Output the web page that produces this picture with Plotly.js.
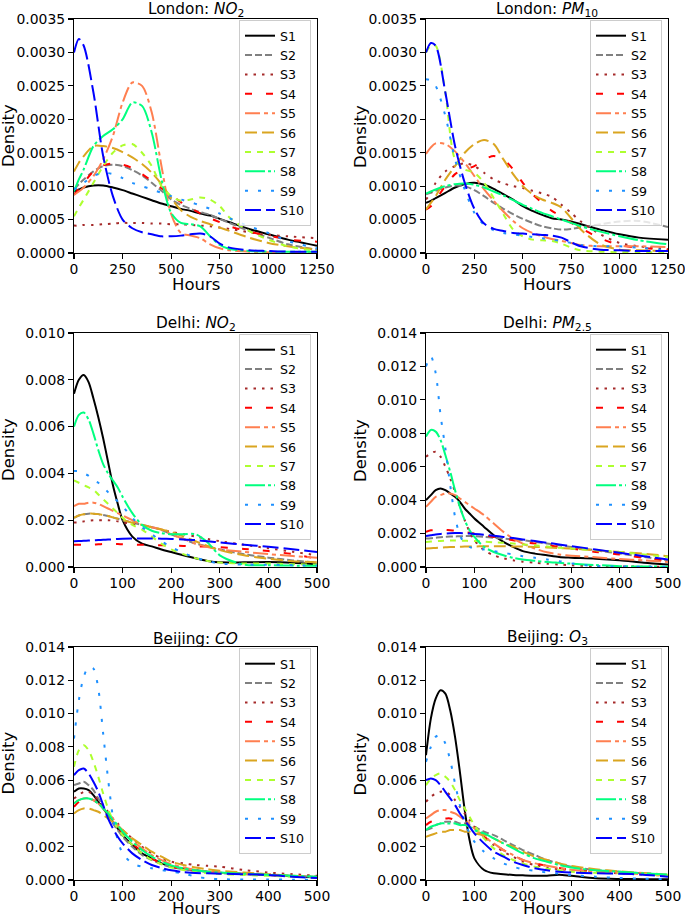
<!DOCTYPE html>
<html>
<head>
<meta charset="utf-8">
<script src="https://cdn.plot.ly/plotly-3.0.1.min.js"></script>
<style>html,body{margin:0;padding:0;background:#fff;}#chart{width:685px;height:918px;}</style>
</head>
<body>
<div id="chart"></div>
<script>
const seriesNames = ['S1','S2','S3','S4','S5','S6','S7','S8','S9','S10'];
const hoursLondon = [0,25,50,100,150,200,250,300,350,400,450,500,550,600,650,700,750,800,900,1000,1100,1250];
const hoursShort = [0,10,20,30,40,50,60,70,80,90,100,120,140,160,180,200,225,250,275,300,350,400,450,500];
const panelTitles = ['London: <i>NO</i><sub>2</sub>','London: <i>PM</i><sub>10</sub>','Delhi: <i>NO</i><sub>2</sub>','Delhi: <i>PM</i><sub>2.5</sub>','Beijing: <i>CO</i>','Beijing: <i>O</i><sub>3</sub>'];
const xAxisTitle = 'Hours';
const yAxisTitle = 'Density';
const xTickLabelsLondon = [0,250,500,750,1000,1250];
const xTickLabelsShort = [0,100,200,300,400,500];

const londonNO2 = [
 [0.00092,0.00095,0.00098,0.00101,0.00101,0.00098,0.00094,0.00089,0.00084,0.00079,0.00074,0.0007,0.00066,0.00063,0.00059,0.00056,0.00051,0.00046,0.00036,0.00028,0.0002,0.00011],
 [0.00095,0.00103,0.0011,0.00122,0.0013,0.00132,0.0013,0.00124,0.00116,0.00105,0.00093,0.0008,0.00072,0.00066,0.00061,0.00057,0.00051,0.00045,0.00033,0.00023,0.00013,0.00005],
 [0.00041,0.00041,0.00042,0.00042,0.00043,0.00044,0.00045,0.00045,0.00045,0.00044,0.00044,0.00043,0.00043,0.00042,0.00041,0.0004,0.00038,0.00036,0.00031,0.00027,0.00025,0.00022],
 [0.00087,0.00096,0.00105,0.00122,0.00131,0.00134,0.00132,0.00127,0.00118,0.00108,0.00097,0.00087,0.00076,0.00067,0.00059,0.00052,0.00046,0.0004,0.00032,0.00026,0.0002,0.00017],
 [0.00087,0.00092,0.00098,0.00115,0.0014,0.00175,0.00225,0.00255,0.0025,0.0021,0.0013,0.00058,0.0003,0.00026,0.00022,0.00013,0.00007,0.00004,0.00002,0.00001,0.00001,0.00001],
 [0.00122,0.00135,0.00145,0.0016,0.0016,0.00157,0.00151,0.00143,0.00133,0.0012,0.00103,0.00082,0.00064,0.00054,0.00048,0.00043,0.00038,0.00033,0.00023,0.00015,0.0001,0.00005],
 [0.00055,0.00068,0.0008,0.00105,0.0013,0.0015,0.00161,0.00163,0.0015,0.0013,0.001,0.00085,0.00078,0.0008,0.00083,0.0008,0.0007,0.00053,0.00033,0.0002,0.0001,0.00003],
 [0.00092,0.0011,0.00125,0.0016,0.00175,0.00185,0.002,0.00225,0.0022,0.0018,0.0011,0.0006,0.00045,0.00043,0.0004,0.00025,0.00012,0.00006,0.00003,0.00002,0.00002,0.00002],
 [0.00095,0.001,0.00105,0.00115,0.0012,0.00118,0.00112,0.00105,0.001,0.00095,0.0009,0.00085,0.0008,0.00076,0.00071,0.00066,0.00059,0.00052,0.0004,0.0003,0.00018,0.00007],
 [0.003,0.0032,0.0031,0.0024,0.00145,0.00085,0.0005,0.00037,0.00031,0.00028,0.00025,0.00025,0.00026,0.00028,0.00029,0.00025,0.00014,0.00008,0.00004,0.00003,0.00002,0.00002]
];
const londonPM10 = [
 [0.00075,0.00078,0.00082,0.0009,0.00098,0.00103,0.00105,0.00102,0.00096,0.00088,0.0008,0.0007,0.00063,0.00057,0.00052,0.0005,0.00047,0.00043,0.00035,0.00028,0.00023,0.0002],
 [0.00088,0.0009,0.00093,0.00098,0.00101,0.001,0.00094,0.00085,0.00075,0.00066,0.00058,0.00051,0.00045,0.0004,0.00037,0.00035,0.00036,0.00038,0.00043,0.00047,0.00048,0.00039],
 [0.0008,0.0009,0.00105,0.00122,0.0013,0.00134,0.0013,0.0012,0.0011,0.00104,0.001,0.00097,0.00093,0.00089,0.00084,0.00072,0.0006,0.00047,0.00028,0.00015,0.0001,0.00006],
 [0.00065,0.0007,0.0008,0.001,0.00118,0.00125,0.0013,0.0014,0.00145,0.0014,0.00125,0.00105,0.00088,0.00075,0.00063,0.00055,0.00045,0.00037,0.00022,0.00012,0.00008,0.00005],
 [0.00148,0.00158,0.00164,0.00163,0.00152,0.00135,0.00115,0.00095,0.00078,0.00062,0.00048,0.00037,0.0003,0.00025,0.00021,0.00018,0.00015,0.00012,0.0001,0.0001,0.0001,0.00009],
 [0.00065,0.00075,0.00085,0.0011,0.0013,0.0015,0.00163,0.00169,0.00163,0.0014,0.00118,0.001,0.00088,0.0008,0.00075,0.00068,0.00052,0.00035,0.00013,0.00005,0.00004,0.00003],
 [0.003,0.0031,0.0031,0.0024,0.0014,0.00125,0.0012,0.00105,0.00082,0.00058,0.00035,0.00025,0.0002,0.00019,0.00018,0.00014,0.00008,0.00004,0.00002,0.00001,0.00001,0.00001],
 [0.00089,0.00092,0.00095,0.001,0.00103,0.00104,0.00102,0.00098,0.00092,0.00086,0.00079,0.00072,0.00066,0.0006,0.00055,0.0005,0.00045,0.0004,0.00032,0.00025,0.00019,0.00013],
 [0.0026,0.00258,0.0025,0.00205,0.0014,0.00095,0.0006,0.00042,0.00034,0.0003,0.00028,0.00026,0.00024,0.00022,0.0002,0.00018,0.00015,0.00012,0.0001,0.0001,0.00008,0.00004],
 [0.003,0.00314,0.0031,0.0024,0.0016,0.00105,0.00066,0.00044,0.00036,0.00033,0.0003,0.00029,0.00028,0.00027,0.00026,0.00023,0.00016,0.0001,0.00005,0.00004,0.00003,0.00003]
];
const delhiNO2 = [
 [0.0074,0.008,0.0082,0.0079,0.0072,0.0064,0.0055,0.0045,0.0035,0.0027,0.002,0.0013,0.001,0.00088,0.00075,0.00064,0.0005,0.00037,0.00026,0.0002,0.0002,0.00021,0.00018,0.00011],
 [0.0021,0.0022,0.00225,0.00228,0.00228,0.00226,0.00222,0.00218,0.00212,0.00206,0.002,0.0019,0.0018,0.0017,0.00158,0.0014,0.0012,0.001,0.00088,0.00075,0.00055,0.0004,0.00028,0.00019],
 [0.0019,0.0019,0.00195,0.00198,0.002,0.002,0.002,0.002,0.00198,0.00195,0.0019,0.00185,0.0018,0.0017,0.0016,0.0015,0.0014,0.0013,0.0012,0.0011,0.00095,0.0008,0.00065,0.0005],
 [0.00095,0.00095,0.00095,0.00095,0.00096,0.00097,0.00098,0.00098,0.00098,0.00098,0.00097,0.00096,0.00095,0.00094,0.00093,0.00092,0.0009,0.00088,0.00087,0.00085,0.00077,0.00068,0.00055,0.00035],
 [0.0026,0.0027,0.0027,0.00275,0.00275,0.0027,0.0026,0.0025,0.0024,0.0023,0.0022,0.002,0.0018,0.0017,0.0016,0.0014,0.0012,0.001,0.00085,0.00075,0.00065,0.00055,0.00047,0.0004],
 [0.0021,0.0022,0.00225,0.00228,0.00228,0.00226,0.00222,0.00218,0.00212,0.00206,0.002,0.0019,0.0018,0.0017,0.0016,0.0015,0.0013,0.0011,0.0009,0.00072,0.0005,0.00035,0.00025,0.0002],
 [0.0037,0.0036,0.0035,0.0034,0.0033,0.0031,0.0029,0.0027,0.0025,0.0023,0.0021,0.0018,0.0016,0.0013,0.001,0.00075,0.00055,0.00038,0.00026,0.00019,0.00015,0.00015,0.00012,0.0001],
 [0.006,0.0065,0.0066,0.0063,0.0057,0.005,0.0044,0.004,0.0037,0.0034,0.003,0.0023,0.0018,0.00155,0.00145,0.0014,0.0014,0.0014,0.00105,0.0005,0.0001,0.00008,0.00006,0.00005],
 [0.0041,0.0041,0.004,0.0039,0.0037,0.0036,0.0034,0.0032,0.003,0.0028,0.0026,0.0021,0.0017,0.0014,0.0011,0.00085,0.0006,0.0004,0.00025,0.00015,0.0001,0.0001,0.00008,0.00006],
 [0.0011,0.00111,0.00112,0.00113,0.00114,0.00115,0.00116,0.00117,0.00118,0.0012,0.00121,0.00122,0.00122,0.00122,0.00121,0.0012,0.00118,0.00115,0.0011,0.00105,0.00095,0.00087,0.00076,0.00064]
];
const delhiPM25 = [
 [0.004,0.0043,0.0046,0.0047,0.0046,0.0044,0.0042,0.0039,0.0035,0.0032,0.0029,0.0024,0.0019,0.0015,0.0012,0.00095,0.0008,0.0007,0.0006,0.00056,0.0005,0.0004,0.00026,0.00015],
 [0.0017,0.00172,0.00175,0.00178,0.0018,0.00182,0.00183,0.00184,0.00185,0.00185,0.00184,0.0018,0.00175,0.0017,0.00165,0.0016,0.0015,0.0014,0.0013,0.0012,0.001,0.0008,0.0006,0.0004],
 [0.0066,0.0068,0.0069,0.0066,0.006,0.0053,0.0045,0.0036,0.0028,0.0021,0.0016,0.001,0.0007,0.00052,0.0004,0.00032,0.00025,0.0002,0.00015,0.0001,0.00005,0.00003,0.00002,0.00001],
 [0.0021,0.0022,0.0022,0.00222,0.00222,0.0022,0.00218,0.00215,0.0021,0.00205,0.002,0.0019,0.0018,0.0017,0.0016,0.0015,0.0014,0.0013,0.0012,0.0011,0.0009,0.00075,0.00055,0.00035],
 [0.0036,0.0039,0.0042,0.0043,0.0044,0.0044,0.0043,0.0041,0.0039,0.0037,0.0035,0.0031,0.0026,0.0021,0.0017,0.0014,0.0011,0.00088,0.00075,0.00068,0.00058,0.00048,0.0004,0.0003],
 [0.0011,0.00112,0.00114,0.00116,0.00118,0.0012,0.0012,0.00121,0.00122,0.00122,0.00123,0.00124,0.00124,0.00124,0.00123,0.00122,0.0012,0.00117,0.00113,0.0011,0.001,0.0009,0.0008,0.00065],
 [0.0015,0.00152,0.00154,0.00156,0.00157,0.00158,0.00158,0.00158,0.00157,0.00156,0.00155,0.00152,0.00148,0.00145,0.0014,0.00135,0.0013,0.00122,0.00115,0.0011,0.001,0.0009,0.00075,0.0006],
 [0.0078,0.0082,0.0081,0.0076,0.0067,0.0057,0.0046,0.0036,0.0028,0.0022,0.0018,0.0012,0.0009,0.0007,0.00055,0.00045,0.00037,0.0003,0.00025,0.0002,0.00012,0.00005,0.00003,0.00002],
 [0.012,0.0126,0.0116,0.0091,0.0071,0.0049,0.003,0.0019,0.0014,0.0012,0.0011,0.00105,0.00095,0.00085,0.00075,0.00065,0.00055,0.00045,0.00035,0.00022,0.00005,0.00003,0.00002,0.00002],
 [0.00185,0.0019,0.00195,0.00198,0.002,0.00202,0.00203,0.00203,0.00202,0.002,0.00198,0.00193,0.00187,0.0018,0.00173,0.00165,0.00155,0.00145,0.00135,0.00125,0.00105,0.00085,0.00065,0.00045]
];
const beijingCO = [
 [0.0053,0.0055,0.0055,0.0054,0.0051,0.0047,0.0043,0.0039,0.0035,0.0031,0.0027,0.0021,0.0016,0.0013,0.001,0.00082,0.00068,0.00058,0.0005,0.00044,0.00037,0.0003,0.00022,0.00015],
 [0.0057,0.0058,0.0059,0.0057,0.0054,0.0049,0.0044,0.0039,0.0034,0.003,0.0026,0.002,0.0015,0.0012,0.00095,0.00078,0.00065,0.00055,0.00048,0.00042,0.00035,0.0003,0.00025,0.0002],
 [0.0049,0.0051,0.0053,0.0053,0.0051,0.0048,0.0045,0.0041,0.0037,0.0034,0.003,0.0025,0.002,0.0016,0.0013,0.0011,0.001,0.0009,0.00085,0.0008,0.0006,0.00045,0.00035,0.00025],
 [0.0044,0.0047,0.0049,0.0049,0.0048,0.0046,0.0043,0.004,0.0036,0.0032,0.0028,0.0022,0.0017,0.0013,0.001,0.0008,0.00065,0.00055,0.00048,0.00042,0.00036,0.0003,0.00022,0.00015],
 [0.0046,0.0048,0.0049,0.0049,0.0048,0.0046,0.0043,0.004,0.0037,0.0033,0.003,0.0024,0.0019,0.0015,0.0012,0.00095,0.00075,0.0006,0.0005,0.00044,0.00037,0.0003,0.00024,0.00018],
 [0.004,0.0042,0.0043,0.0043,0.0042,0.0041,0.0039,0.0037,0.0035,0.0032,0.003,0.0025,0.0021,0.0017,0.0014,0.0011,0.0009,0.00075,0.00065,0.00056,0.00045,0.00035,0.00025,0.00018],
 [0.0068,0.0078,0.0081,0.0078,0.0071,0.0062,0.0052,0.0043,0.0036,0.0031,0.0027,0.0021,0.0016,0.0012,0.00095,0.00075,0.0006,0.0005,0.00042,0.00036,0.0003,0.00025,0.0002,0.00015],
 [0.0046,0.0048,0.0049,0.0049,0.0048,0.0046,0.0043,0.004,0.0036,0.0033,0.0029,0.0023,0.0018,0.0014,0.0011,0.00088,0.0007,0.00058,0.0005,0.00045,0.00038,0.00032,0.00026,0.0002],
 [0.0085,0.0108,0.0122,0.0128,0.0127,0.0115,0.0088,0.0061,0.0038,0.0024,0.0016,0.001,0.0008,0.0007,0.0006,0.0005,0.0004,0.0002,0.0001,0.00005,0.00003,0.00003,0.00002,0.00002],
 [0.0063,0.0066,0.0067,0.0064,0.0059,0.0053,0.0045,0.0037,0.0031,0.0026,0.0022,0.0016,0.0012,0.0009,0.00072,0.00058,0.00048,0.00042,0.0004,0.00038,0.00035,0.0003,0.0002,0.00012]
];
const beijingO3 = [
 [0.0075,0.0097,0.0109,0.0114,0.0112,0.0102,0.0086,0.0065,0.0042,0.0024,0.0013,0.0006,0.0004,0.00035,0.0003,0.00028,0.00026,0.00026,0.00032,0.00025,0.0001,0.00006,0.00005,0.00004],
 [0.003,0.0031,0.0033,0.0034,0.0035,0.0035,0.0035,0.0034,0.0034,0.0033,0.0032,0.0029,0.0027,0.0024,0.0021,0.0018,0.0015,0.0012,0.001,0.0008,0.0006,0.0005,0.0004,0.0003],
 [0.0047,0.005,0.0052,0.0053,0.0053,0.0051,0.0048,0.0044,0.004,0.0036,0.0032,0.0026,0.0021,0.0017,0.0014,0.0011,0.0009,0.00075,0.00065,0.00058,0.00048,0.0004,0.00033,0.00025],
 [0.0033,0.0035,0.0036,0.0037,0.0037,0.0037,0.0036,0.0035,0.0034,0.0032,0.003,0.0026,0.0022,0.0018,0.0015,0.0012,0.001,0.00085,0.00072,0.00063,0.0005,0.00042,0.00035,0.00025],
 [0.0037,0.0039,0.0041,0.0042,0.0042,0.0041,0.004,0.0038,0.0036,0.0034,0.0031,0.0026,0.0022,0.0018,0.0015,0.0012,0.001,0.00085,0.00072,0.00062,0.0005,0.00042,0.00035,0.00025],
 [0.0026,0.0027,0.0028,0.0029,0.0029,0.003,0.003,0.003,0.0029,0.0029,0.0028,0.0027,0.0025,0.0022,0.002,0.0017,0.0014,0.0012,0.001,0.00085,0.00065,0.00052,0.00042,0.00032],
 [0.0057,0.0061,0.0063,0.0064,0.0062,0.0059,0.0054,0.0048,0.0043,0.0038,0.0033,0.0025,0.0019,0.0015,0.0012,0.001,0.0008,0.00068,0.00058,0.0005,0.00043,0.0004,0.00035,0.0003],
 [0.003,0.0032,0.0033,0.0034,0.0034,0.0034,0.0034,0.0033,0.0033,0.0032,0.003,0.0028,0.0025,0.0022,0.0019,0.0016,0.0013,0.0011,0.0009,0.00075,0.00058,0.0005,0.0004,0.00032],
 [0.0071,0.008,0.0086,0.0087,0.0082,0.0072,0.0058,0.0045,0.0035,0.0028,0.0023,0.0017,0.0013,0.001,0.0008,0.00065,0.00055,0.00045,0.00038,0.0003,0.0002,0.00012,0.00008,0.00006],
 [0.006,0.0061,0.006,0.0057,0.0053,0.0049,0.0045,0.004,0.0036,0.0032,0.0028,0.0022,0.0017,0.0014,0.0011,0.0009,0.0007,0.00058,0.0005,0.00045,0.0004,0.00038,0.00032,0.0002]
];

// ---- styling (not data) ----
const colors = ['#000000','#808080','#a52a2a','#ff0000','#ff7f50','#daa520','#adff2f','#00ff7f','#1e90ff','#0000ff'];
const dashes = ['solid','7px,3px','2.5px,6px','7px,14px','15px,4px,4px,4px','12px,5px','6px,6px','20px,3px,3px,3px','3px,10px','16px,5px'];
const FONT = 'DejaVu Sans, sans-serif';
const W = 685, H = 918;
const colPx = [[74,317],[426,668]];
const rowPx = [[19,253],[333,567],[647,880]];

const panels = [
  {data: londonNO2, x: hoursLondon, xt: xTickLabelsLondon, xmax: 1250, ymax: 0.0035, dy: 0.0005, dec: 4},
  {data: londonPM10, x: hoursLondon, xt: xTickLabelsLondon, xmax: 1250, ymax: 0.0035, dy: 0.0005, dec: 4},
  {data: delhiNO2, x: hoursShort, xt: xTickLabelsShort, xmax: 500, ymax: 0.010, dy: 0.002, dec: 3},
  {data: delhiPM25, x: hoursShort, xt: xTickLabelsShort, xmax: 500, ymax: 0.014, dy: 0.002, dec: 3},
  {data: beijingCO, x: hoursShort, xt: xTickLabelsShort, xmax: 500, ymax: 0.014, dy: 0.002, dec: 3},
  {data: beijingO3, x: hoursShort, xt: xTickLabelsShort, xmax: 500, ymax: 0.014, dy: 0.002, dec: 3}
];

const traces = [];
const layout = {
  width: W, height: H,
  margin: {l:0, r:0, t:0, b:0},
  paper_bgcolor: '#ffffff', plot_bgcolor: '#ffffff',
  font: {family: FONT, size: 14, color: '#000'},
  annotations: [],
  showlegend: true
};

panels.forEach((p, i) => {
  const col = i % 2, row = Math.floor(i / 2);
  const xs = i === 0 ? '' : String(i + 1);
  const legName = i === 0 ? 'legend' : 'legend' + (i + 1);
  const xd = [colPx[col][0] / W, colPx[col][1] / W];
  const yd = [1 - rowPx[row][1] / H, 1 - rowPx[row][0] / H];
  p.data.forEach((ys, k) => {
    traces.push({
      type: 'scatter', mode: 'lines', x: p.x, y: ys, name: seriesNames[k],
      xaxis: 'x' + xs, yaxis: 'y' + xs, legend: legName,
      line: {color: colors[k], width: 2, dash: dashes[k], shape: 'spline', smoothing: 0.8},
      cliponaxis: true, hoverinfo: 'skip'
    });
  });
  const axCommon = {
    showline: true, linecolor: '#000', linewidth: 1.1, mirror: true,
    ticks: 'outside', ticklen: 5, tickwidth: 1.1, tickcolor: '#000',
    showgrid: false, zeroline: false, automargin: false,
    ticklabeloverflow: 'allow',
    tickfont: {family: FONT, size: 13.9, color: '#000'}
  };
  layout['xaxis' + xs] = Object.assign({}, axCommon, {
    domain: xd, anchor: 'y' + xs, range: [0, p.xmax],
    tickmode: 'array', tickvals: p.xt, ticktext: p.xt.map(String),
    ticklabelstandoff: -2
  });
  const yt = [];
  for (let v = 0; v <= p.ymax + 1e-9; v += p.dy) yt.push(+v.toFixed(6));
  layout['yaxis' + xs] = Object.assign({}, axCommon, {
    domain: yd, anchor: 'x' + xs, range: [0, p.ymax],
    tickmode: 'array', tickvals: yt, ticktext: yt.map(v => v.toFixed(p.dec))
  });
  layout[legName] = {
    x: (colPx[col][1] - 6) / W, xanchor: 'right',
    y: 1 - (rowPx[row][0] + 1) / H, yanchor: 'top',
    bgcolor: 'rgba(255,255,255,0.8)', bordercolor: '#cccccc', borderwidth: 1,
    font: {family: FONT, size: 12.6, color: '#000'},
    itemwidth: 30, traceorder: 'normal', tracegroupgap: 0
  };
  // subplot title
  layout.annotations.push({
    text: panelTitles[i], xref: 'paper', yref: 'paper',
    x: (xd[0] + xd[1]) / 2, xanchor: 'center',
    y: yd[1], yanchor: 'bottom', yshift: -3, showarrow: false,
    font: {family: FONT, size: 15.3, color: '#000'}
  });
  // x-axis title
  layout.annotations.push({
    text: xAxisTitle, xref: 'paper', yref: 'paper',
    x: (xd[0] + xd[1]) / 2, xanchor: 'center',
    y: yd[0], yanchor: 'middle', yshift: row === 2 ? -28 : -31, showarrow: false,
    font: {family: FONT, size: 16.5, color: '#000'}
  });
  // y-axis title
  layout.annotations.push({
    text: yAxisTitle, xref: 'paper', yref: 'paper', textangle: -90,
    x: xd[0], xanchor: 'center', xshift: -66,
    y: (yd[0] + yd[1]) / 2, yanchor: 'middle', showarrow: false,
    font: {family: FONT, size: 16.5, color: '#000'}
  });
});

Plotly.newPlot('chart', traces, layout, {staticPlot: true, displayModeBar: false});
</script>
</body>
</html>
